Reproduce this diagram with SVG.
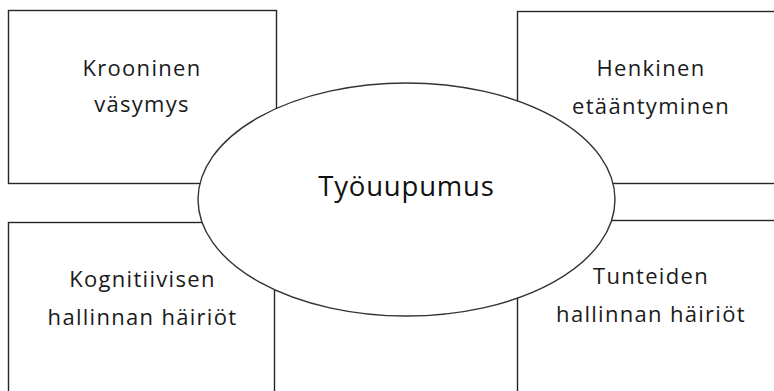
<svg xmlns="http://www.w3.org/2000/svg" width="774" height="391" viewBox="0 0 774 391">
  <style>
    .box { fill: #ffffff; stroke: #262626; stroke-width: 1.4; }
    .hub { fill: #ffffff; stroke: #333333; stroke-width: 1.4; }
    .lbl { font-family: "Open Sans", "Liberation Sans", sans-serif; font-size: 22px; letter-spacing: 1.3px; fill: #1a1a1a; text-anchor: middle; }
    .hubtxt { font-family: "Open Sans", "Liberation Sans", sans-serif; font-size: 27.5px; letter-spacing: 0.8px; fill: #111111; text-anchor: middle; }
  </style>
  <rect width="774" height="391" fill="#ffffff"/>

  <g id="chronic-fatigue">
    <rect class="box" x="8.5" y="10.5" width="268" height="173"/>
    <text class="lbl" x="142" y="76">Krooninen</text>
    <text class="lbl" x="142" y="112">väsymys</text>
  </g>

  <g id="mental-distancing">
    <rect class="box" x="517.5" y="11.5" width="270" height="172"/>
    <text class="lbl" x="651" y="76">Henkinen</text>
    <text class="lbl" x="651" y="114">etääntyminen</text>
  </g>

  <g id="cognitive-control">
    <rect class="box" x="8.5" y="222.5" width="266" height="180"/>
    <text class="lbl" x="142.5" y="287">Kognitiivisen</text>
    <text class="lbl" x="142.5" y="325">hallinnan häiriöt</text>
  </g>

  <g id="emotional-control">
    <rect class="box" x="517.5" y="220.5" width="270" height="182"/>
    <text class="lbl" x="651" y="284">Tunteiden</text>
    <text class="lbl" x="651" y="322">hallinnan häiriöt</text>
  </g>

  <g id="connectors"></g>

  <g id="burnout">
    <ellipse class="hub" cx="406.5" cy="199.5" rx="208.5" ry="116.5"/>
    <text class="hubtxt" x="406.5" y="196">Työuupumus</text>
  </g>
</svg>
